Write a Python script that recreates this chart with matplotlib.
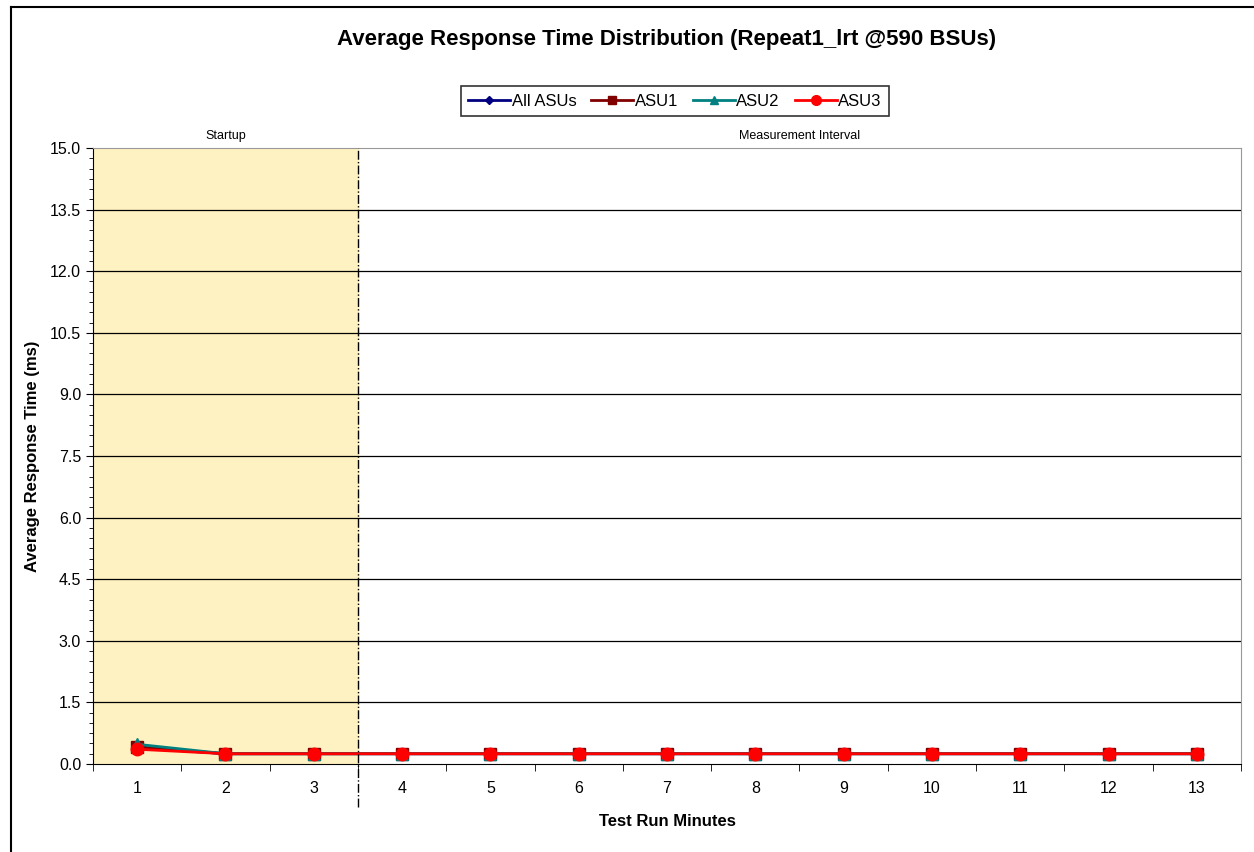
import matplotlib
matplotlib.use("Agg")
import matplotlib.pyplot as plt
from matplotlib.ticker import MultipleLocator
from matplotlib.lines import Line2D

minutes = list(range(1, 14))
all_asus = [0.40, 0.25, 0.25, 0.25, 0.25, 0.25, 0.25, 0.25, 0.25, 0.25, 0.25, 0.25, 0.25]
asu1 = [0.42, 0.25, 0.25, 0.25, 0.25, 0.25, 0.25, 0.25, 0.25, 0.25, 0.25, 0.25, 0.25]
asu2 = [0.48, 0.25, 0.25, 0.25, 0.25, 0.25, 0.25, 0.25, 0.25, 0.25, 0.25, 0.25, 0.25]
asu3 = [0.36, 0.25, 0.25, 0.25, 0.25, 0.25, 0.25, 0.25, 0.25, 0.25, 0.25, 0.25, 0.25]
yticks = [0.0, 1.5, 3.0, 4.5, 6.0, 7.5, 9.0, 10.5, 12.0, 13.5, 15.0]

plt.rcParams['font.family'] = ['Liberation Sans', 'DejaVu Sans']
fig = plt.figure(figsize=(12.54, 8.52), dpi=100)
W, H = 1254, 852
ax = fig.add_axes([93 / W, 1 - 764 / H, (1241 - 93) / W, (764 - 148) / H])

# outer frame (left and top edges only visible)
fig.add_artist(Line2D([11 / W, 11 / W], [0, 1 - 7 / H], transform=fig.transFigure,
                      color='black', linewidth=1.5))
fig.add_artist(Line2D([11 / W, 1], [1 - 7 / H, 1 - 7 / H], transform=fig.transFigure,
                      color='black', linewidth=1.5))

ax.set_xlim(0.5, 13.5)
ax.set_ylim(0, 15)
ax.axvspan(0.5, 3.5, color='#fff2c2', zorder=0)
for y in yticks[1:-1]:
    ax.axhline(y, color='black', linewidth=0.9, zorder=1)

ax.plot(minutes, all_asus, color='#000080', marker='D', markersize=5, linewidth=2, zorder=3)
ax.plot(minutes, asu1, color='#800000', marker='s', markersize=8, linewidth=2, zorder=3)
ax.plot(minutes, asu2, color='#008080', marker='^', markersize=8, linewidth=2, zorder=3)
ax.plot(minutes, asu3, color='#ff0000', marker='o', markersize=9, linewidth=2, zorder=4)

ax.axvline(3.5, ymin=-0.07, ymax=1.0, color='black', linestyle='-.', linewidth=1, clip_on=False, zorder=5)

ax.set_yticks(yticks)
ax.set_yticklabels([f"{v:.1f}" for v in yticks], fontsize=11.5)
ax.yaxis.set_minor_locator(MultipleLocator(0.25))
ax.set_xticks(minutes)
ax.set_xticklabels([str(m) for m in minutes], fontsize=11.5)
ax.set_xticks([m + 0.5 for m in range(0, 14)], minor=True)
ax.tick_params(axis='x', which='major', length=0, pad=12)
ax.tick_params(axis='x', which='minor', length=5, direction='out')
ax.tick_params(axis='y', which='major', length=5, direction='out')
ax.tick_params(axis='y', which='minor', length=3, direction='out')

ax.spines['top'].set_color('#999999')
ax.spines['right'].set_color('#999999')

ax.set_xlabel('Test Run Minutes', fontsize=12, fontweight='bold', labelpad=13)
ax.set_ylabel('Average Response Time (ms)', fontsize=12, fontweight='bold', labelpad=7)

fig.text(667 / W, 1 - 40 / H, 'Average Response Time Distribution (Repeat1_lrt @590 BSUs)',
         ha='center', va='center', fontsize=16, fontweight='bold')
ax.text(2, 15.15, 'Startup', ha='center', va='bottom', fontsize=9)
ax.text(8.5, 15.15, 'Measurement Interval', ha='center', va='bottom', fontsize=9)

handles = [
    Line2D([], [], color='#000080', marker='D', markersize=4, linewidth=2),
    Line2D([], [], color='#800000', marker='s', markersize=6, linewidth=2),
    Line2D([], [], color='#008080', marker='^', markersize=6, linewidth=2),
    Line2D([], [], color='#ff0000', marker='o', markersize=7, linewidth=2),
]
leg = fig.legend(handles, ['All ASUs', 'ASU1', 'ASU2', 'ASU3'], loc='center',
                 bbox_to_anchor=(675 / W, 1 - 101 / H), ncol=4, frameon=True, fancybox=False,
                 edgecolor='black', fontsize=12, handlelength=2.5, handletextpad=0.1,
                 columnspacing=0.9, borderpad=0.45)
leg.get_frame().set_linewidth(1.2)

fig.savefig('out.png', dpi=100)
